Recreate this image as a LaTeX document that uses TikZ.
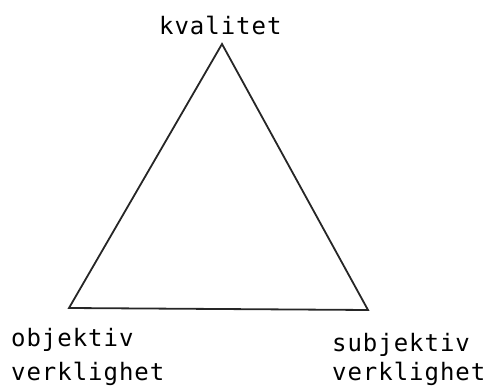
\documentclass[tikz,border=0pt]{standalone}
\usepackage{fontspec}
\setmonofont[LetterSpace=4]{DejaVu Sans Mono}
\tikzset{
  px/.style={x=1pt,y=-1pt},
  lbl/.style={font=\ttfamily\fontsize{24}{33}\selectfont, inner sep=0pt, anchor=base west, align=left},
  edge/.style={line width=1.8pt, black!85}
}
\begin{document}
\begin{tikzpicture}[px]
\useasboundingbox (0,0) rectangle (490,387);
\coordinate (a) at (222,44);
\coordinate (l) at (69,308);
\coordinate (r) at (368,310);
\draw[edge, line join=miter] (a) -- (l) -- (r) -- cycle;
\node[lbl] (k) at (159,35) {kvalitet};
\node[lbl] (o1) at (11,347) {objektiv};
\node[lbl] (o2) at (11,380) {verklighet};
\node[lbl] (s1) at (332,352) {subjektiv};
\node[lbl] (s2) at (332,380) {verklighet};
\end{tikzpicture}
\end{document}
